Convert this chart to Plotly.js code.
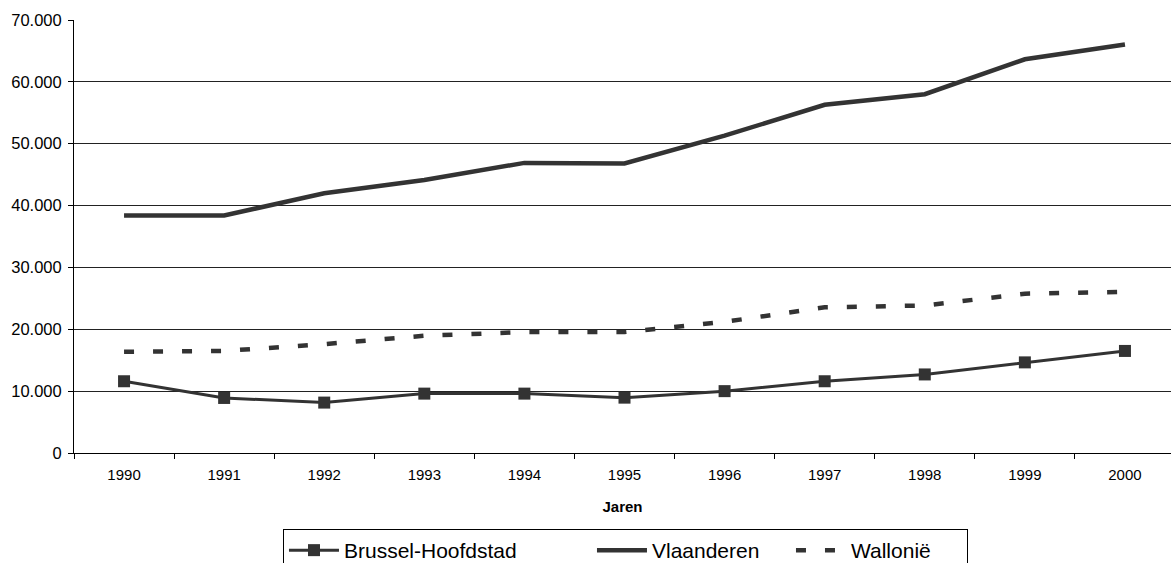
<!DOCTYPE html>
<html>
<head>
<meta charset="utf-8">
<script src="https://cdn.plot.ly/plotly-3.0.1.min.js"></script>
<style>
  body { margin: 0; background: #fff; }
  #chart { width: 1171px; height: 563px; }
</style>
</head>
<body>
<div id="chart"></div>
<script>
// Jaren (x axis categories)
var jaren = ["1990", "1991", "1992", "1993", "1994", "1995", "1996", "1997", "1998", "1999", "2000"];

// values
var brussel = [11600, 8900, 8150, 9600, 9600, 8950, 10000, 11600, 12700, 14650, 16500];
var vlaanderen = [38400, 38400, 42000, 44150, 46900, 46800, 51300, 56300, 58000, 63650, 66050];
var wallonie = [16350, 16500, 17600, 18950, 19550, 19550, 21200, 23550, 23850, 25750, 26050];

var yTicks = [0, 10000, 20000, 30000, 40000, 50000, 60000, 70000];

var ink = "#333333";
var font = 'Arial, "Liberation Sans", sans-serif';

var traceBrussel = {
    x: jaren,
    y: brussel,
    name: "Brussel-Hoofdstad",
    type: "scatter",
    mode: "lines+markers",
    line: {color: ink, width: 3},
    marker: {symbol: "square", size: 12, color: ink},
    legendwidth: 243
};
var traceVlaanderen = {
    x: jaren,
    y: vlaanderen,
    name: "Vlaanderen",
    type: "scatter",
    mode: "lines",
    line: {color: ink, width: 4.5},
    legendwidth: 134
};
var traceWallonie = {
    x: jaren,
    y: wallonie,
    name: "Wallonië",
    type: "scatter",
    mode: "lines",
    line: {color: ink, width: 4.5, dash: "10px,19px"},
    legendwidth: 111
};

var data = [traceBrussel, traceVlaanderen, traceWallonie];

var layout = {
    width: 1171,
    height: 563,
    margin: {l: 74, r: 0, t: 20, b: 110, autoexpand: false},
    paper_bgcolor: "#fff",
    plot_bgcolor: "#fff",
    separators: ",.",
    font: {family: font, color: "#000", size: 15},
    showlegend: true,
    xaxis: {
        type: "category",
        range: [-0.5, 10.46],
        tickson: "boundaries",
        ticks: "outside",
        ticklen: 5,
        tickcolor: "#000",
        ticklabelstandoff: 8,
        showline: true,
        linecolor: "#000",
        linewidth: 1,
        showgrid: false,
        zeroline: false,
        tickfont: {size: 15},
        title: {text: "<b>Jaren</b>", font: {size: 15}, standoff: 19}
    },
    yaxis: {
        range: [0, 70000],
        tickvals: yTicks,
        tickformat: ",d",
        ticks: "outside",
        ticklen: 5,
        tickcolor: "#000",
        ticklabelstandoff: 3,
        showline: true,
        linecolor: "#000",
        linewidth: 1,
        showgrid: true,
        gridcolor: "#222",
        gridwidth: 1,
        zeroline: false,
        tickfont: {size: 16.5}
    },
    legend: {
        orientation: "h",
        x: 0.1905,
        xanchor: "left",
        y: -0.1755,
        yanchor: "top",
        bordercolor: "#000",
        borderwidth: 1,
        bgcolor: "#fff",
        font: {size: 21},
        itemwidth: 50
    }
};

Plotly.newPlot("chart", data, layout, {displayModeBar: false});
</script>
</body>
</html>
